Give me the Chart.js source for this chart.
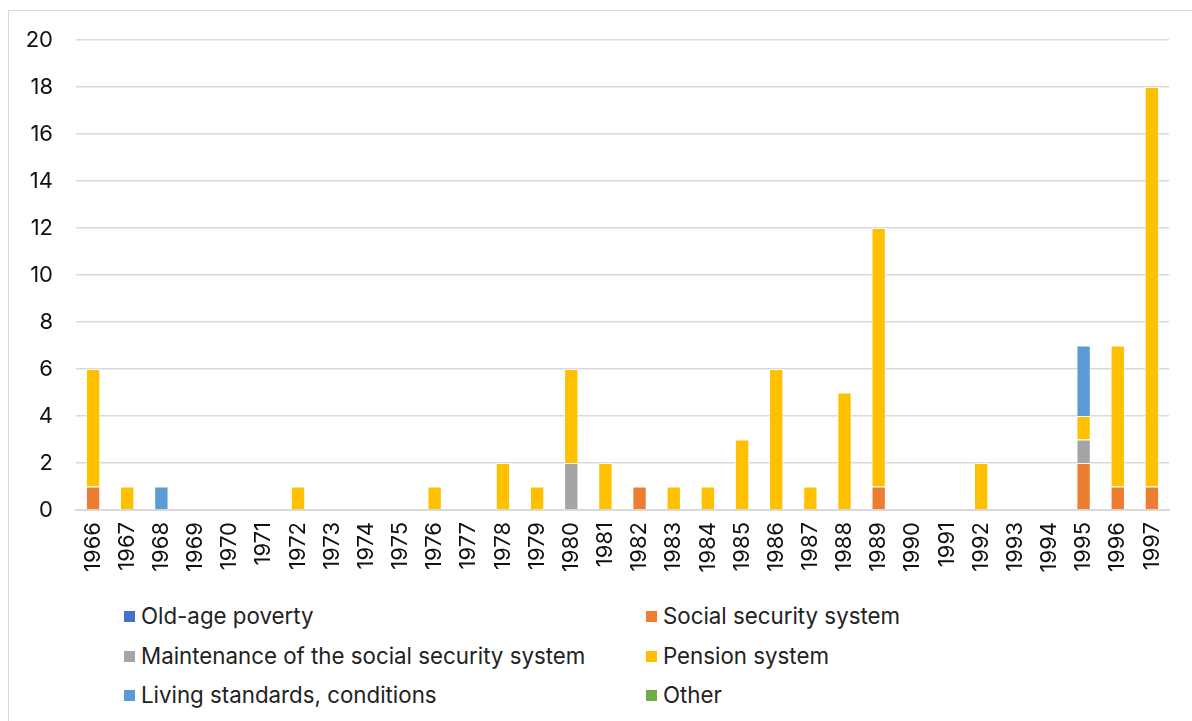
<!DOCTYPE html>
<html>
<head>
<meta charset="utf-8">
<script src="https://cdn.jsdelivr.net/npm/chart.js@4/dist/chart.umd.min.js"></script>
<style>
  body { margin: 0; background: #fff; font-family: Inter, "Open Sans", sans-serif; }
  #frame { position: absolute; left: 8px; top: 10px; width: 1300px; height: 800px; border: 1px solid #d9d9d9; }
  #wrap { position: absolute; left: 0; top: 0; width: 1192px; height: 590px; }
  #legend { position: absolute; left: 124px; top: 603px; width: 1060px; }
  .item { position: absolute; display: flex; align-items: center; font-size: 22.3px; color: #222; white-space: nowrap; line-height: 26px; }
  .box { width: 11px; height: 11px; margin-right: 6px; }
</style>
</head>
<body>
<div id="frame"></div>
<div id="wrap"><canvas id="bars"></canvas></div>
<div id="legend"></div>
<script>
// years on the x axis
const years = ['1966','1967','1968','1969','1970','1971','1972','1973','1974','1975','1976',
  '1977','1978','1979','1980','1981','1982','1983','1984','1985','1986','1987','1988',
  '1989','1990','1991','1992','1993','1994','1995','1996','1997'];

// series, bottom of the stack first
const oldAgePoverty  = [0,0,0,0,0,0,0,0,0,0,0, 0,0,0,0,0,0,0,0,0,0,0,0, 0,0,0,0,0,0,0,0,0];
const socialSecurity = [1,0,0,0,0,0,0,0,0,0,0, 0,0,0,0,0,1,0,0,0,0,0,0, 1,0,0,0,0,0,2,1,1];
const maintenance    = [0,0,0,0,0,0,0,0,0,0,0, 0,0,0,2,0,0,0,0,0,0,0,0, 0,0,0,0,0,0,1,0,0];
const pension        = [5,1,0,0,0,0,1,0,0,0,1, 0,2,1,4,2,0,1,1,3,6,1,5, 11,0,0,2,0,0,1,6,17];
const livingStd      = [0,0,1,0,0,0,0,0,0,0,0, 0,0,0,0,0,0,0,0,0,0,0,0, 0,0,0,0,0,0,3,0,0];
const other          = [0,0,0,0,0,0,0,0,0,0,0, 0,0,0,0,0,0,0,0,0,0,0,0, 0,0,0,0,0,0,0,0,0];

const seriesNames = ['Old-age poverty', 'Social security system', 'Maintenance of the social security system',
  'Pension system', 'Living standards, conditions', 'Other'];
const seriesColors = ['#4472C4', '#ED7D31', '#A5A5A5', '#FFC000', '#5B9BD5', '#70AD47'];
const seriesData = [oldAgePoverty, socialSecurity, maintenance, pension, livingStd, other];

const yTicks = [0, 2, 4, 6, 8, 10, 12, 14, 16, 18, 20];

const font = { family: 'Inter, "Open Sans", sans-serif', size: 22 };

let datasets = seriesNames.map(function (name, i) {
  return {
    label: name,
    data: seriesData[i],
    backgroundColor: seriesColors[i],
    borderColor: 'rgba(255,255,255,0.7)',
    borderWidth: 1,
    barPercentage: 0.42,
    categoryPercentage: 1.0
  };
});

new Chart(document.getElementById('bars'), {
  type: 'bar',
  data: { labels: years, datasets: datasets },
  options: {
    responsive: true,
    maintainAspectRatio: false,
    animation: false,
    layout: { padding: { top: 40, right: 23, left: 0, bottom: 0 } },
    plugins: { legend: { display: false }, tooltip: { enabled: false } },
    scales: {
      x: {
        stacked: true,
        grid: { display: false, drawTicks: false },
        border: { color: '#d9d9d9', width: 2 },
        ticks: { color: '#111', font: font, minRotation: 90, maxRotation: 90, padding: 12, autoSkip: false },
        afterFit: function (s) { s.height = 80; }
      },
      y: {
        stacked: true,
        min: 0, max: 20,
        afterBuildTicks: function (s) { s.ticks = yTicks.map(function (v) { return { value: v }; }); },
        grid: { color: '#d9d9d9', lineWidth: 1.5, drawTicks: false },
        border: { display: false },
        ticks: { color: '#111', font: font, padding: 23 },
        afterFit: function (s) { s.width = 76; }
      }
    }
  }
});

// two-column legend under the chart
const legend = document.getElementById('legend');
const colX = [0, 522];
const rowY = [0, 40, 79];
seriesNames.forEach(function (name, i) {
  let el = document.createElement('div');
  el.className = 'item';
  el.style.left = colX[i % 2] + 'px';
  el.style.top = rowY[Math.floor(i / 2)] + 'px';
  el.innerHTML = '<span class="box" style="background:' + seriesColors[i] + '"></span>' + name;
  legend.appendChild(el);
});
</script>
</body>
</html>
